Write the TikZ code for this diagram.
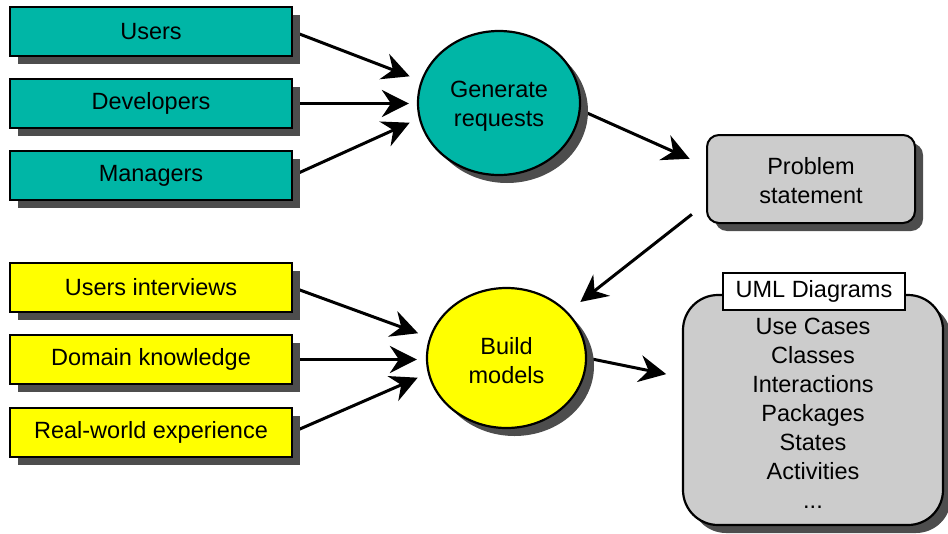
\documentclass[tikz,border=0pt]{standalone}
\usepackage{fontspec}
\setmainfont{Liberation Sans}
\usetikzlibrary{shapes.geometric,shadows,arrows.meta,backgrounds}

\definecolor{tealfill}{RGB}{0,182,166}
\definecolor{yellowfill}{RGB}{255,255,0}
\definecolor{grayfill}{RGB}{204,204,204}
\definecolor{shadowgray}{RGB}{77,77,77}

% extra height on a first line, to lower a block of centred lines
\newcommand{\toppad}{\rule{0pt}{23pt}}

\tikzset{
  x=1pt, y=-1pt,
  every node/.style={font=\fontsize{23.5}{29}\selectfont, text=black},
  boxshadow/.style={drop shadow={shadow xshift=8pt, shadow yshift=-8pt, fill=shadowgray, opacity=1}},
  inputbox/.style={draw=black, line width=2pt, minimum width=282pt, minimum height=49pt,
                   inner sep=0pt, boxshadow},
  tealbox/.style={inputbox, fill=tealfill},
  yellowbox/.style={inputbox, fill=yellowfill},
  activity/.style={ellipse, draw=black, line width=2.2pt, inner sep=0pt, align=center, boxshadow},
  flow/.style={line width=3pt, -{Stealth[length=27pt, width=27pt, inset=9pt]}},
}

\begin{document}
\begin{tikzpicture}
\useasboundingbox (0,0) rectangle (948,533);

% sources of requests
\node[tealbox] (users) at (151,31.5) {Users};
\node[tealbox] (devs)  at (151,103.5) {Developers};
\node[tealbox] (mgrs)  at (151,175.5) {Managers};

% sources of knowledge
\node[yellowbox] (interviews) at (151,287.5) {Users interviews};
\node[yellowbox] (domain)     at (151,359.5) {Domain knowledge};
\node[yellowbox] (realworld)  at (151,432)   {Real-world experience};

% activities
\node[activity, fill=tealfill, minimum width=162pt, minimum height=144pt] (gen) at (499,103)
  {\toppad Generate\\requests};
\node[activity, fill=yellowfill, minimum width=159pt, minimum height=140pt] (build) at (506.5,358)
  {\toppad Build\\models};

% problem statement
\node[draw=black, line width=2pt, fill=grayfill, rounded corners=12pt, minimum width=208pt,
      minimum height=88pt, inner sep=0pt, align=center, boxshadow] (prob) at (811,179)
  {\rule{0pt}{21pt}Problem\\statement};

% resulting models
\node[draw=black, line width=2.2pt, fill=grayfill, rounded corners=35pt, minimum width=260pt,
      minimum height=230pt, inner sep=0pt, align=center, boxshadow] (uml) at (813,410)
  {\toppad Use Cases\\Classes\\Interactions\\Packages\\States\\Activities\\...};
\node[draw=black, line width=1.6pt, fill=white, minimum width=182pt, minimum height=37pt,
      inner sep=0pt] (umltitle) at (814,291.5) {UML Diagrams};

% connectors
\begin{pgfonlayer}{background}
\draw[flow, shorten >=12pt] (users.east) -- (gen.164);
\draw[flow, shorten >=8pt]  (devs.east) -- (devs.east -| gen.west);
\draw[flow, shorten >=10pt] (mgrs.east) -- (gen.191);
\draw[flow, shorten >=18pt] (gen.-5) -- (prob.173);
\draw[flow, shorten <=18pt, shorten >=16pt] (prob.193.5) -- (build.37);
\draw[flow, shorten >=12pt] (interviews.east) -- (build.165);
\draw[flow, shorten >=9pt]  (domain.east) -- (domain.east -| build.west);
\draw[flow, shorten >=11pt] (realworld.east) -- (build.191.5);
\draw[flow, shorten >=16pt] (build.east) -- (uml.166.4);
\end{pgfonlayer}
\end{tikzpicture}
\end{document}
